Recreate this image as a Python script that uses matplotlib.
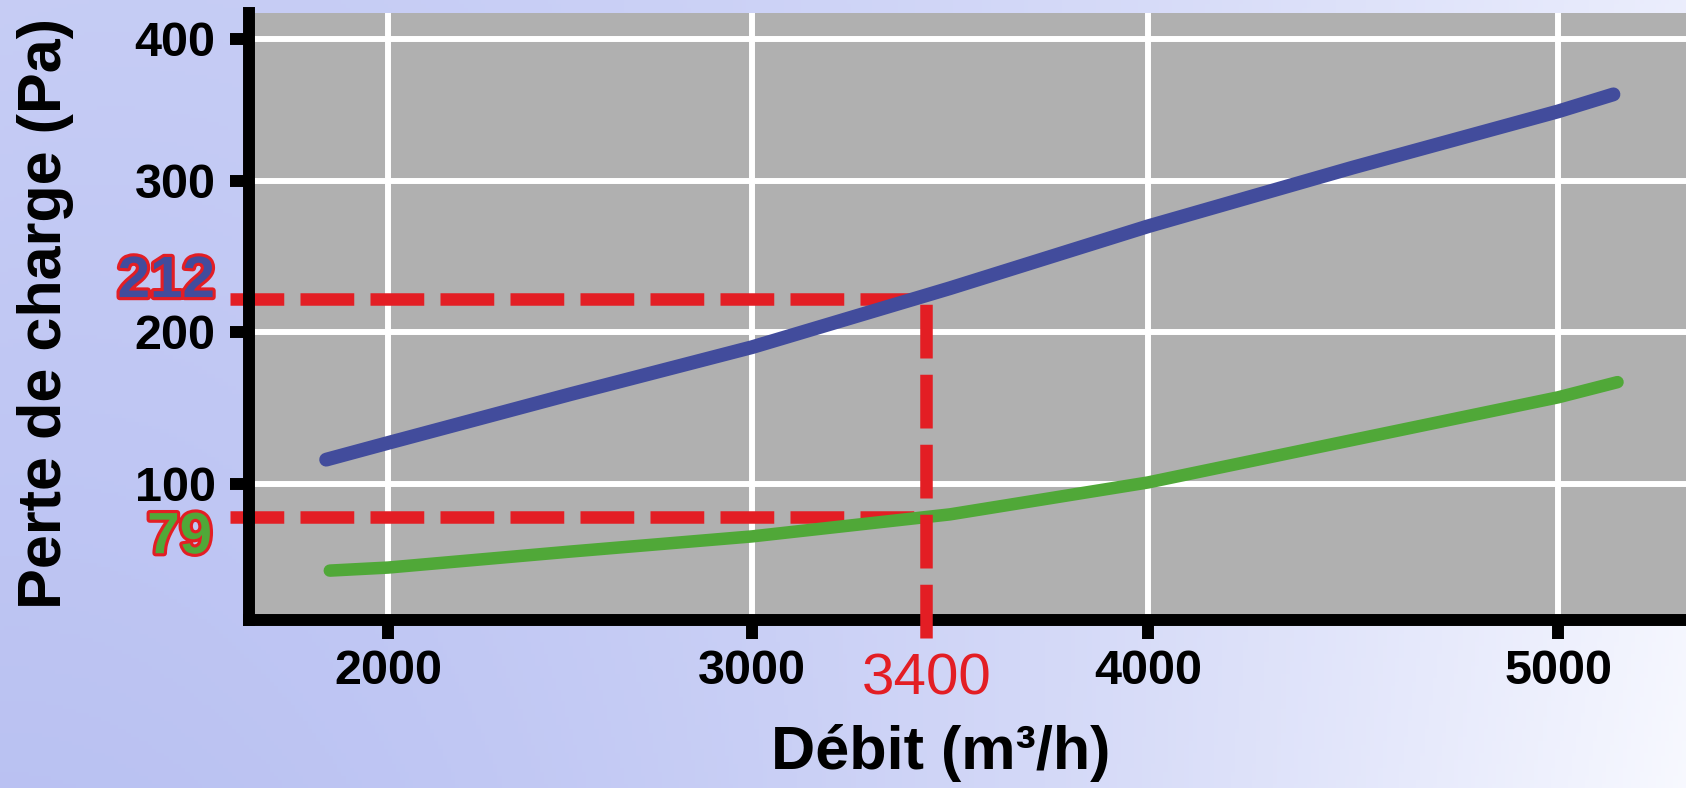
import numpy as np
import matplotlib
matplotlib.use('Agg')
import matplotlib.pyplot as plt
import matplotlib.patheffects as pe

plt.rcParams['font.family'] = ['Liberation Sans', 'DejaVu Sans']
plt.rcParams['font.weight'] = 'bold'

# courbes : debit (m3/h) -> perte de charge (Pa)
debit_bleu = [1830, 2000, 2500, 3000, 3500, 4000, 4500, 5000, 5135]
perte_bleu = [116, 127, 159, 190, 229, 270, 309.5, 349, 361]
debit_vert = [1840, 2000, 2500, 3000, 3500, 4000, 4500, 5000, 5145]
perte_vert = [43, 45, 55.5, 65.5, 80, 101, 129, 157, 167]

ticks_x = [2000, 3000, 4000, 5000]
ticks_y = [100, 200, 300, 400]

# lecture au point de fonctionnement (texte affiche / position du trait)
lecture_debit, trait_debit = '3400', 3440
lecture_bleu, trait_bleu = '212', 222
lecture_vert, trait_vert = '79', 78

bleu = '#424c9c'
vert = '#50a838'
rouge = '#e31e24'
gris = '#b0b0b0'


# l'axe d'origine est dessine a la main : graduations inegales
def echelle(knots, pos):
    k = np.asarray(knots, float)
    p = np.asarray(pos, float)
    s0 = (p[1] - p[0]) / (k[1] - k[0])
    s1 = (p[-1] - p[-2]) / (k[-1] - k[-2])
    big = 1e6
    kk = np.r_[k[0] - big, k, k[-1] + big]
    pp = np.r_[p[0] - big * s0, p, p[-1] + big * s1]
    return (lambda v: np.interp(v, kk, pp)), (lambda q: np.interp(q, pp, kk))


fx, ix = echelle(ticks_x, [0, 364, 760, 1170])
fy, iy = echelle(ticks_y, [0, 152, 303, 445])

W, H = 1686, 788
fig = plt.figure(figsize=(W / 100, H / 100), dpi=100)

# fond degrade
bg = fig.add_axes([0, 0, 1, 1], zorder=-10)
xx, yy = np.meshgrid(np.linspace(0, 1, 400), np.linspace(0, 1, 200))
t = xx ** 1.8 * (1 - 0.2 * yy) + 0.2 * yy * (1 - xx)
c0 = np.array([0.73, 0.76, 0.95])
c1 = np.array([0.97, 0.975, 1.0])
img = c0[None, None, :] + (c1 - c0)[None, None, :] * t[:, :, None]
bg.imshow(img, aspect='auto', extent=[0, 1, 0, 1], origin='lower')
bg.axis('off')

ax = fig.add_axes([249 / W, 1 - 620 / H, 1 - 249 / W, (620 - 13) / H])
ax.set_xscale('function', functions=(fx, ix))
ax.set_yscale('function', functions=(fy, iy))
x_min, x_max = 1618, 5312
y_min, y_max = 10.5, 418.3
ax.set_xlim(x_min, x_max)
ax.set_ylim(y_min, y_max)
ax.set_facecolor(gris)
ax.set_xticks(ticks_x)
ax.set_yticks(ticks_y)
ax.grid(color='white', lw=4.3)
ax.set_axisbelow(True)

for s in ['top', 'right']:
    ax.spines[s].set_visible(False)
for s in ['left', 'bottom']:
    ax.spines[s].set_linewidth(8.6)
    ax.spines[s].set_color('black')
    ax.spines[s].set_capstyle('projecting')

ax.tick_params(direction='out', length=14, width=8.6, color='black', labelsize=35)
ax.tick_params(axis='x', pad=7)
ax.tick_params(axis='y', pad=10)

# traits de lecture
x_bord = ix(fx(x_min) - 19)
y_bas = iy(fy(y_min) - 18)
dash = (0, (4.3, 1.3))
ax.plot([x_bord, trait_debit], [trait_bleu, trait_bleu], color=rouge, lw=9,
        linestyle=dash, clip_on=False, zorder=2)
ax.plot([x_bord, trait_debit], [trait_vert, trait_vert], color=rouge, lw=9,
        linestyle=dash, clip_on=False, zorder=2)

ax.plot(debit_bleu, perte_bleu, color=bleu, lw=10, solid_capstyle='round', zorder=3)
ax.plot(debit_vert, perte_vert, color=vert, lw=9, solid_capstyle='round', zorder=3)

ax.plot([trait_debit, trait_debit], [y_bas, trait_bleu], color=rouge, lw=9,
        linestyle=dash, clip_on=False, zorder=4)

ax.annotate(lecture_bleu, xy=(0, trait_bleu), xycoords=('axes fraction', 'data'),
            xytext=(-24.5, 12), textcoords='offset points', ha='right', va='center',
            fontsize=42, color=bleu, annotation_clip=False,
            path_effects=[pe.withStroke(linewidth=4.5, foreground=rouge)])
ax.annotate(lecture_vert, xy=(0, trait_vert), xycoords=('axes fraction', 'data'),
            xytext=(-26.6, -15), textcoords='offset points', ha='right', va='center',
            fontsize=42, color=vert, annotation_clip=False,
            path_effects=[pe.withStroke(linewidth=4.5, foreground=rouge)])
ax.annotate(lecture_debit, xy=(trait_debit, 0), xycoords=('data', 'axes fraction'),
            xytext=(0, -43), textcoords='offset points', ha='center', va='center',
            fontsize=42, fontweight='normal', color=rouge, annotation_clip=False)

ax.set_xlabel('Débit (m³/h)', fontsize=44, fontweight='bold')
ax.xaxis.set_label_coords(0.481, -0.172)
ax.set_ylabel('Perte de charge (Pa)', fontsize=44, fontweight='bold')
ax.yaxis.set_label_coords(-0.122, 0.505)

fig.savefig('out.png', dpi=100)
